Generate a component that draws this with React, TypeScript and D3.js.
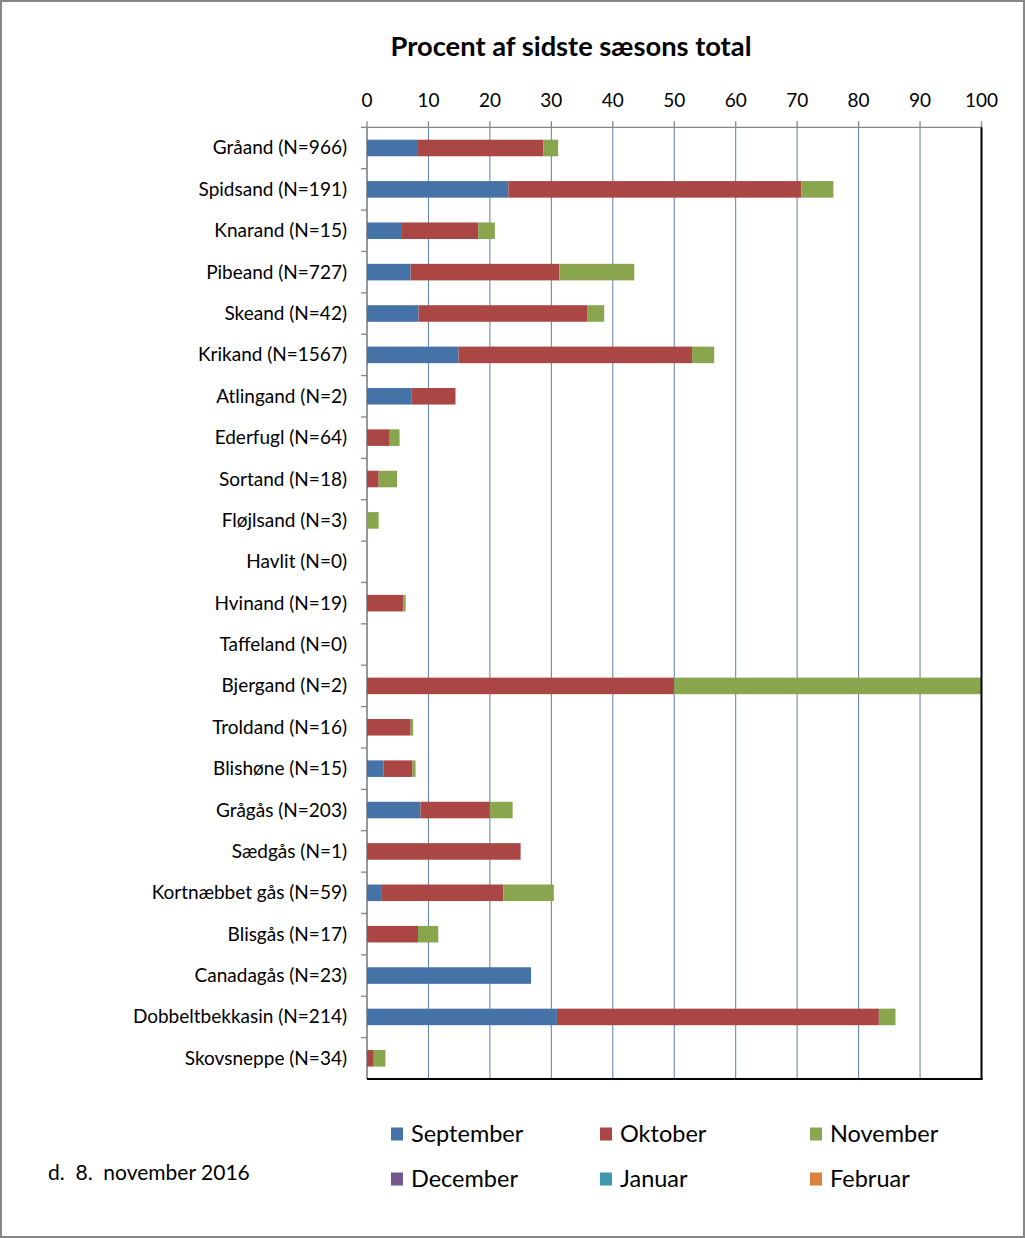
import React from "react";
import * as d3 from "d3";

const categories = [
  "Gråand (N=966)", "Spidsand (N=191)", "Knarand (N=15)", "Pibeand (N=727)", "Skeand (N=42)",
  "Krikand (N=1567)", "Atlingand (N=2)", "Ederfugl (N=64)", "Sortand (N=18)", "Fløjlsand (N=3)",
  "Havlit (N=0)", "Hvinand (N=19)", "Taffeland (N=0)", "Bjergand (N=2)", "Troldand (N=16)",
  "Blishøne (N=15)", "Grågås (N=203)", "Sædgås (N=1)", "Kortnæbbet gås (N=59)", "Blisgås (N=17)",
  "Canadagås (N=23)", "Dobbeltbekkasin (N=214)", "Skovsneppe (N=34)",
];
const september = [8.3, 23.0, 5.7, 7.1, 8.4, 14.9, 7.2, 0, 0, 0, 0, 0, 0, 0, 0, 2.7, 8.7, 0, 2.3, 0, 26.7, 30.9, 0];
const oktober = [20.4, 47.7, 12.4, 24.2, 27.5, 38.0, 7.2, 3.7, 1.9, 0, 0, 5.9, 0, 50, 7.1, 4.7, 11.3, 25.0, 19.9, 8.3, 0, 52.4, 1.1];
const november = [2.4, 5.2, 2.7, 12.2, 2.7, 3.6, 0, 1.6, 3.0, 1.9, 0, 0.4, 0, 50, 0.4, 0.5, 3.7, 0, 8.2, 3.3, 0, 2.7, 1.9];
const december = new Array(23).fill(0);
const januar = new Array(23).fill(0);
const februar = new Array(23).fill(0);
const months = ["September", "Oktober", "November", "December", "Januar", "Februar"];
const monthColors = ["#4572A7", "#AA4643", "#89A54E", "#71588F", "#4198AF", "#DB843D"];
const xTicks = [0, 10, 20, 30, 40, 50, 60, 70, 80, 90, 100];
const title = "Procent af sidste sæsons total";
const dateText = "d.  8.  november 2016";

const W = 1025, H = 1238;
const FONT = "Lato, 'Noto Sans', sans-serif";

export default function App() {
  const series = [september, oktober, november, december, januar, februar];
  const rows = categories.map((c, i) => {
    const o: any = { cat: c };
    months.forEach((m, k) => (o[m] = series[k][i]));
    return o;
  });
  const stacked = d3.stack<any>().keys(months)(rows);
  const x = d3.scaleLinear().domain([0, 100]).range([367, 981.5]);
  const y = d3.scaleBand().domain(categories).range([127.3, 1079]).paddingInner(0.6).paddingOuter(0.3);
  const yb = d3.scaleBand().domain(categories).range([127.3, 1079]);
  const left = x(0), right = x(100), top = 127.3, bottom = 1079;

  return (
    <div style={{ position: "absolute", left: 0, top: 0 }}>
      <svg width={W} height={H} style={{ display: "block", background: "#fff" }} fontFamily={FONT}>
        <rect x={1} y={1} width={W - 2} height={H - 2} fill="#fff" stroke="#878787" strokeWidth={2} />
        <text x={571} y={56} textAnchor="middle" fontSize={27.3} fontWeight="bold" fill="#000">{title}</text>
        {xTicks.map((t) => (
          <line key={"g" + t} x1={x(t)} x2={x(t)} y1={top} y2={bottom} stroke="#5C7FA5" strokeWidth={1} />
        ))}
        <line x1={left} x2={right} y1={top} y2={top} stroke="#868686" strokeWidth={1.3} />
        {xTicks.map((t) => (
          <g key={"t" + t}>
            <line x1={x(t)} x2={x(t)} y1={top - 6} y2={top} stroke="#868686" strokeWidth={1.3} />
            <text x={x(t)} y={107} textAnchor="middle" fontSize={19} fill="#000">{t}</text>
          </g>
        ))}
        <line x1={left} x2={left} y1={top} y2={bottom} stroke="#868686" strokeWidth={1.3} />
        {categories.map((c, i) => (
          <line key={"lt" + i} x1={left - 6} x2={left} y1={(yb(c) as number)} y2={(yb(c) as number)} stroke="#868686" strokeWidth={1.3} />
        ))}
        {categories.map((c) => (
          <text key={"l" + c} x={347} y={(yb(c) as number) + yb.bandwidth() / 2 + 6.5} textAnchor="end" fontSize={19} fill="#000">{c}</text>
        ))}
        {stacked.map((s, k) => (
          <g key={"s" + k} fill={monthColors[k]}>
            {s.map((d, i) => {
              const w = x(d[1]) - x(d[0]);
              if (w <= 0) return null;
              return <rect key={i} x={x(d[0])} y={y(categories[i])} width={w} height={y.bandwidth()} />;
            })}
          </g>
        ))}
        <line x1={right} x2={right} y1={top} y2={bottom + 1} stroke="#000" strokeWidth={2} />
        <line x1={left} x2={right + 1} y1={bottom} y2={bottom} stroke="#000" strokeWidth={2} />
        {months.map((m, k) => {
          const col = k % 3, row = Math.floor(k / 3);
          const lx = [391, 600, 810][col];
          const ly = [1134, 1179][row];
          return (
            <g key={"lg" + m}>
              <rect x={lx} y={ly - 6.5} width={12} height={13} fill={monthColors[k]} />
              <text x={lx + 20} y={ly + 8} fontSize={23.5} fill="#000">{m}</text>
            </g>
          );
        })}
        <text x={48} y={1180} fontSize={21} fill="#000" style={{ whiteSpace: "pre" }}>{dateText}</text>
      </svg>
    </div>
  );
}
